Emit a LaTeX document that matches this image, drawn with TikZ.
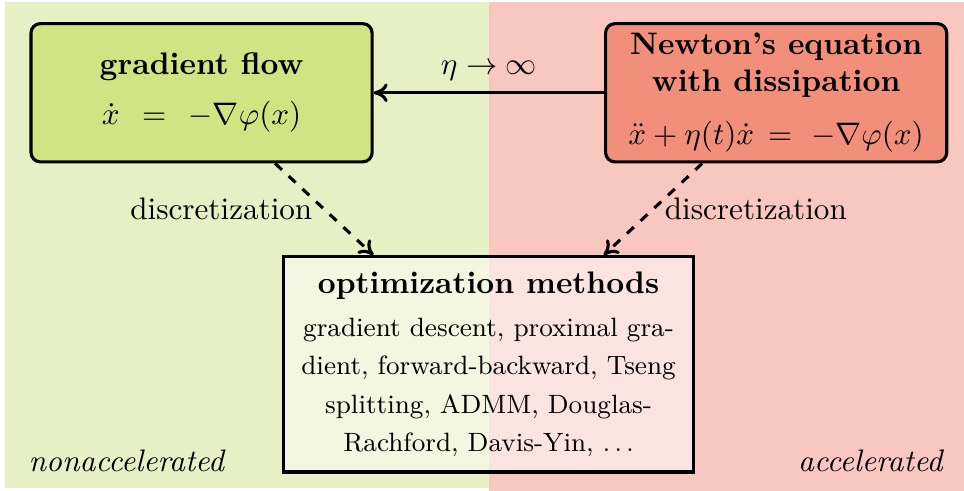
\documentclass[tikz,border=0pt]{standalone}
\usepackage{amsmath}
\usetikzlibrary{arrows.meta}
\definecolor{bggreen}{RGB}{231,240,196}
\definecolor{boxgreen}{RGB}{209,227,131}
\definecolor{bgred}{RGB}{248,199,191}
\definecolor{boxred}{RGB}{242,143,122}
\begin{document}
\begin{tikzpicture}[
        flowbox/.style={draw, line width=1pt, rounded corners=3pt, align=center,
            minimum width=3.85cm, minimum height=1.56cm, inner sep=0pt},
        methodbox/.style={draw, line width=1pt, fill=white, fill opacity=0.5, text opacity=1,
            align=center, minimum width=4.62cm, minimum height=2.43cm, inner sep=0pt,
            font=\fontsize{8.5}{12.3}\selectfont},
        link/.style={-{To[length=4.5pt, width=6pt]}, line width=1pt}
    ]
        \useasboundingbox (0,0) rectangle (10.88,5.54);

        \fill[bggreen] (0.056,0.034) rectangle (5.52,5.517);
        \fill[bgred] (5.52,0) rectangle (10.88,5.517);

        \node[anchor=base west] (slow) at (0.2, 0.215) {\textit{nonaccelerated}};
        \node[anchor=base east] (fast) at (10.78, 0.215) {\textit{accelerated}};

        \node[flowbox, fill=boxgreen] (grad) at (2.275, 4.493)
            {\textbf{gradient flow}\\[4pt] $\dot x \;\,=\;\, -\nabla\varphi(x)$};

        \node[flowbox, fill=boxred] (newt) at (8.76, 4.493)
            {\textbf{Newton's equation}\\ \textbf{with dissipation}\\[5pt] $\ddot x + \eta(t)\dot x \,=\,\, -\nabla\varphi(x)$};

        \node[methodbox] (opt) at (5.514, 1.428)
            {{\fontsize{10}{12}\selectfont\textbf{optimization methods}}\\[1.5pt]
             gradient descent, proximal gra-\\
             dient, forward-backward, Tseng\\
             splitting, ADMM, Douglas-\\
             Rachford, Davis-Yin, $\ldots$};

        \draw[link] (newt) -- (grad) node[midway, above] {$\eta \to \infty$};

        \draw[link, dashed] ([xshift=0.83cm]grad.south) -- ([xshift=-1.30cm]opt.north)
            node[midway, left] {discretization};
        \draw[link, dashed] ([xshift=-0.835cm]newt.south) -- ([xshift=1.30cm]opt.north)
            node[midway, right] {discretization};

    \end{tikzpicture}
\end{document}
